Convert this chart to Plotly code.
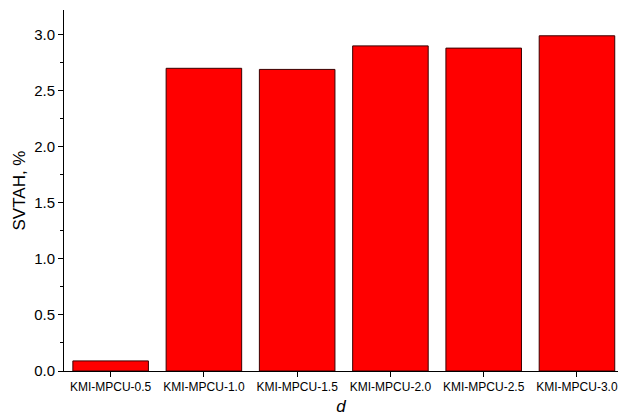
import plotly.graph_objects as go

categories = ["KMI-MPCU-0.5", "KMI-MPCU-1.0", "KMI-MPCU-1.5",
              "KMI-MPCU-2.0", "KMI-MPCU-2.5", "KMI-MPCU-3.0"]
svtah = [0.09, 2.70, 2.69, 2.90, 2.88, 2.99]

fig = go.Figure(go.Bar(
    x=categories,
    y=svtah,
    width=0.81,
    marker=dict(color="#ff0000", line=dict(color="#3a0000", width=1)),
))

font = "Liberation Sans, Arial, sans-serif"
fig.update_layout(
    width=618, height=420,
    margin=dict(l=64, r=0, t=10, b=49),
    paper_bgcolor="white", plot_bgcolor="white",
    showlegend=False,
    font=dict(family=font, color="black"),
    xaxis=dict(
        range=[-0.5, 5.44],
        showline=True, linecolor="black", linewidth=1,
        ticks="outside", ticklen=5, tickcolor="black",
        tickfont=dict(size=12),
        title=dict(text="<i>d</i>", font=dict(size=17), standoff=6),
        showgrid=False,
    ),
    yaxis=dict(
        range=[0, 3.22],
        dtick=0.5, tickformat=".1f",
        showline=True, linecolor="black", linewidth=1,
        ticks="outside", ticklen=5, tickcolor="black",
        minor=dict(dtick=0.25, ticks="outside", ticklen=3, tickcolor="black"),
        tickfont=dict(size=15),
        title=dict(text="SVTAH, %", font=dict(size=17), standoff=4),
        showgrid=False, zeroline=False,
    ),
)

fig.write_html("out.html")
